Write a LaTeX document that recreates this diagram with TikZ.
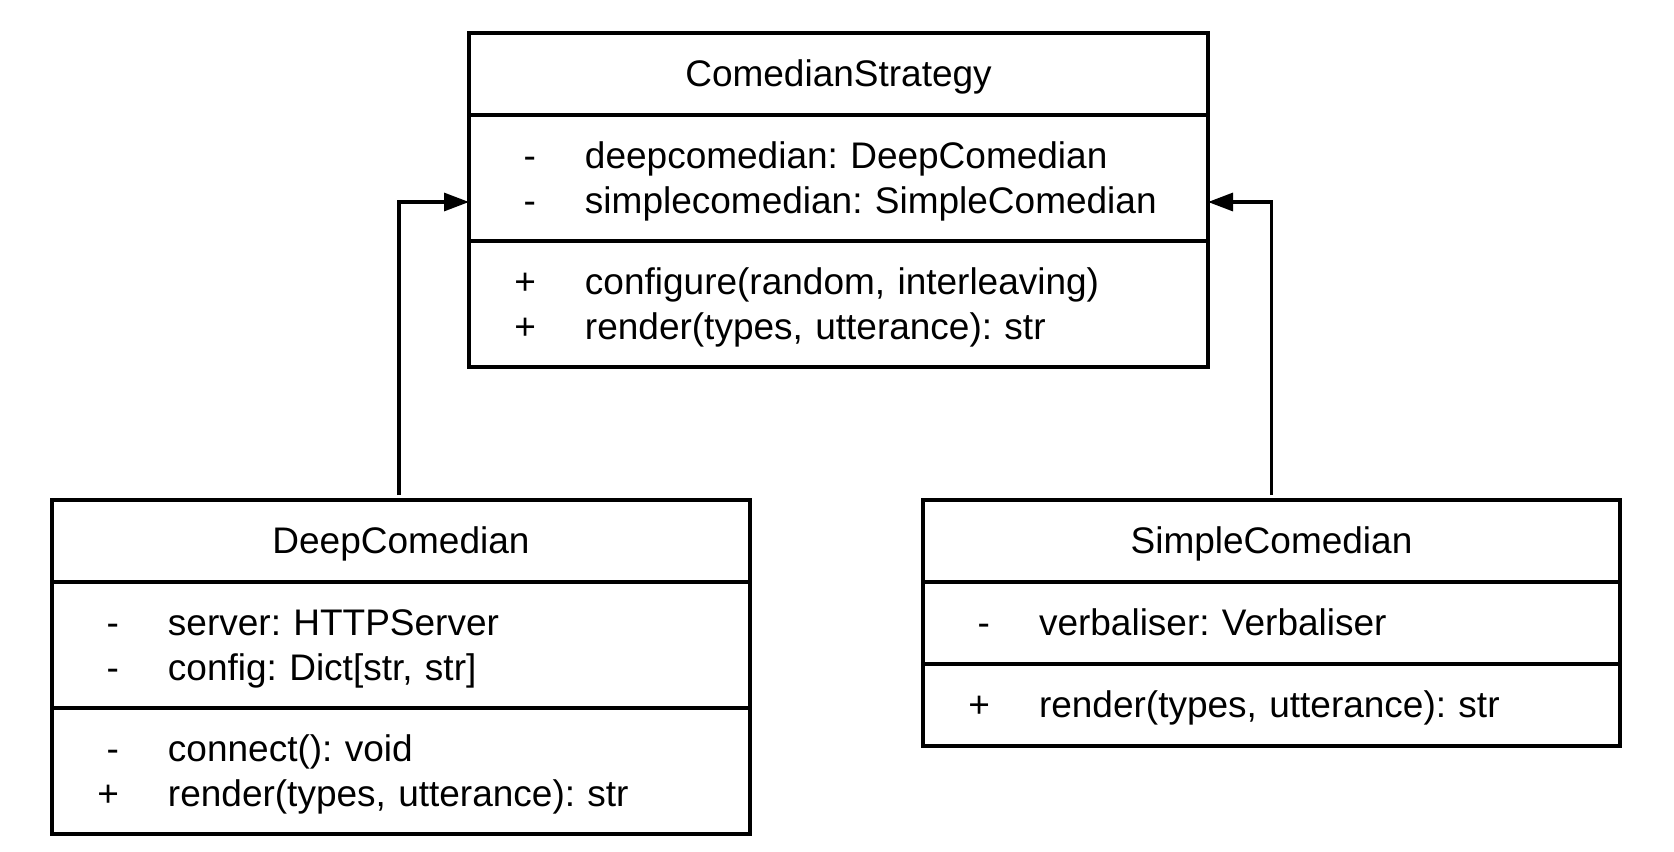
\documentclass[tikz,border=0pt]{standalone}
\usepackage{fontspec}
\setmainfont{Liberation Sans}
\usetikzlibrary{positioning}
\usetikzlibrary{arrows.meta}
\frenchspacing
\newcommand{\umlfont}{\fontsize{18.5pt}{22.5pt}\selectfont}
\newcommand{\cstrut}{\rule[-4.7pt]{0pt}{22.2pt}}
\newcommand{\member}[2]{\hspace*{8.5pt}\makebox[25pt][r]{#1}\hspace*{24.5pt}#2\cstrut}
\tikzset{
	class_box/.style = {
		rectangle,
		draw=black,
		line width=1.6pt,
		outer sep=0pt,
		inner xsep=0pt,
		font=\umlfont
	},
	class_head/.style = {
		class_box,
		align=center,
		text width=#1,
		minimum height=41pt
	},
	class_part/.style = {
		class_box,
		align=left,
		text width=#1,
		minimum height=63pt
	},
	class_part_low/.style = {
		class_part=#1,
		minimum height=41pt
	},
	inherit/.style = {
		->,
		line width=1.6pt,
		shorten <=2.5pt
	},
}

\begin{document}
\begin{tikzpicture}[>={Triangle[length=12.5pt,width=9pt]}]
\useasboundingbox (0,0) rectangle (837pt,-425.5pt);
% strategy
\node [class_head=369.5pt, anchor=north west] (strat) at (234.5pt,-16.5pt) {ComedianStrategy\cstrut};
\node [class_part=369.5pt, below=0pt of strat] (strat_attr) {
	\member{-}{deepcomedian: DeepComedian}\\
	\member{-}{simplecomedian: SimpleComedian}};
\node [class_part=369.5pt, below=0pt of strat_attr] (strat_ops) {
	\member{+}{configure(random, interleaving)}\\
	\member{+}{render(types, utterance): str}};
% deep comedian
\node [class_head=349pt, anchor=north west] (deep) at (26pt,-250pt) {DeepComedian\cstrut};
\node [class_part=349pt, below=0pt of deep] (deep_attr) {
	\member{-}{server: HTTPServer}\\
	\member{-}{config: Dict[str, str]}};
\node [class_part=349pt, below=0pt of deep_attr] (deep_ops) {
	\member{-}{connect(): void}\\
	\member{+}{render(types, utterance): str}};
% simple comedian
\node [class_head=348.5pt, anchor=north west] (simple) at (461.5pt,-250pt) {SimpleComedian\cstrut};
\node [class_part_low=348.5pt, below=0pt of simple] (simple_attr) {
	\member{-}{verbaliser: Verbaliser}};
\node [class_part_low=348.5pt, below=0pt of simple_attr] (simple_ops) {
	\member{+}{render(types, utterance): str}};
% arrows
\draw [inherit] ([xshift=-1pt]deep.north) |- ([yshift=-12pt]strat_attr.west);
\draw [inherit] (simple.north) |- ([yshift=-12pt]strat_attr.east);
\end{tikzpicture}
\end{document}
